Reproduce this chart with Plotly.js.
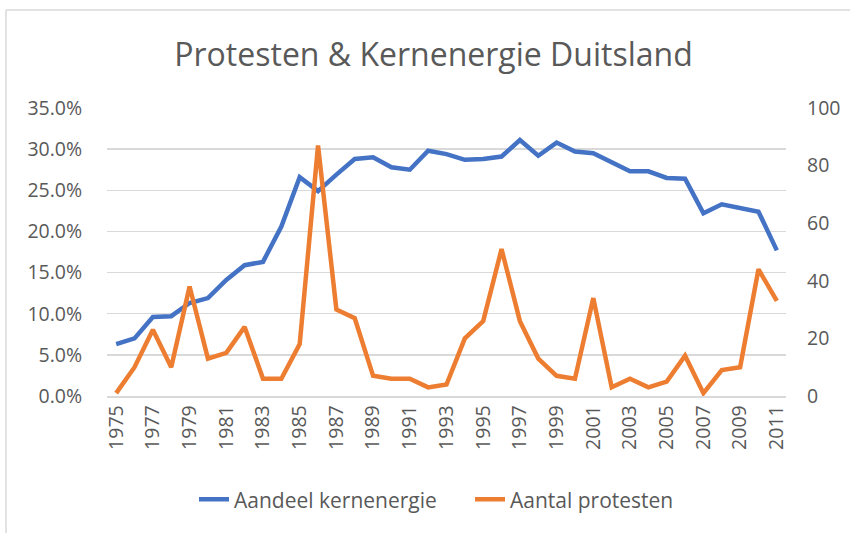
<!DOCTYPE html>
<html>
<head>
<meta charset="utf-8">
<script src="https://cdn.plot.ly/plotly-3.0.1.min.js"></script>
<style>html,body{margin:0;padding:0;background:#fff;}#chart{width:850px;height:533px;}</style>
</head>
<body>
<div id="chart"></div>
<script>
const years = [1975,1976,1977,1978,1979,1980,1981,1982,1983,1984,1985,1986,1987,1988,1989,1990,1991,1992,1993,1994,1995,1996,1997,1998,1999,2000,2001,2002,2003,2004,2005,2006,2007,2008,2009,2010,2011];
const aandeelKernenergie = [0.063,0.070,0.096,0.097,0.113,0.119,0.141,0.159,0.163,0.206,0.266,0.249,0.269,0.288,0.290,0.278,0.275,0.298,0.294,0.287,0.288,0.291,0.311,0.292,0.308,0.297,0.295,0.284,0.273,0.273,0.265,0.264,0.222,0.233,0.229,0.224,0.177];
const aantalProtesten = [1,10,23,10,38,13,15,24,6,6,18,87,30,27,7,6,6,3,4,20,26,51,26,13,7,6,34,3,6,3,5,14,1,9,10,44,33];
const xTickVals = [1975,1977,1979,1981,1983,1985,1987,1989,1991,1993,1995,1997,1999,2001,2003,2005,2007,2009,2011];
const leftTicks = [0,0.05,0.10,0.15,0.20,0.25,0.30,0.35];
const rightTicks = [0,20,40,60,80,100];

const font = "'Open Sans', 'Liberation Sans', sans-serif";
const grey = '#595959';
const tickSize = 19.5;

const traces = [
  {x: years, y: aandeelKernenergie, name: 'Aandeel kernenergie', type: 'scatter', mode: 'lines',
   line: {color: '#4472C4', width: 4.5, shape: 'linear'}, yaxis: 'y'},
  {x: years, y: aantalProtesten, name: 'Aantal protesten', type: 'scatter', mode: 'lines',
   line: {color: '#ED7D31', width: 4.5, shape: 'linear'}, yaxis: 'y2'}
];

const layout = {
  width: 850, height: 533,
  margin: {l: 107, r: 64, t: 108, b: 137, pad: 0},
  paper_bgcolor: '#fff', plot_bgcolor: '#fff',
  font: {family: font, color: grey, size: tickSize},
  title: {text: 'Protesten &amp; Kernenergie Duitsland', font: {family: font, size: 32, color: grey},
          x: 0.51, xanchor: 'center', y: 0.897, yanchor: 'middle', xref: 'container', yref: 'container'},
  showlegend: true,
  legend: {orientation: 'h', x: (194 - 107) / 679, xanchor: 'left', y: -0.36, yanchor: 'middle',
           font: {family: font, size: 21, color: grey}, itemwidth: 30, entrywidth: 231, entrywidthmode: 'pixels'},
  xaxis: {type: 'linear', range: [1974.5, 2011.5], tickmode: 'array', tickvals: xTickVals,
          ticktext: xTickVals.map(String), tickangle: -90, showgrid: false, zeroline: false,
          showline: true, linecolor: '#d9d9d9', linewidth: 1.5, ticks: '', ticklen: 0, automargin: false,
          tickfont: {family: font, size: tickSize, color: grey}},
  yaxis: {range: [0, 0.35], tickmode: 'array', tickvals: leftTicks, tickformat: '.1%',
          showgrid: true, gridcolor: '#d9d9d9', gridwidth: 1.5, zeroline: false, showline: false,
          ticks: 'outside', ticklen: 20, tickcolor: 'rgba(0,0,0,0)', automargin: false,
          tickfont: {family: font, size: tickSize, color: grey}},
  yaxis2: {range: [0, 100], overlaying: 'y', side: 'right', tickmode: 'array', tickvals: rightTicks,
           showgrid: false, zeroline: false, showline: false, ticks: '', ticklen: 0,
           ticklabelstandoff: 20, automargin: false,
           tickfont: {family: font, size: tickSize, color: grey}},
  shapes: [
    {type: 'line', xref: 'paper', yref: 'paper', x0: -101/679, x1: 743/679, y0: 1 + 98/288, y1: 1 + 98/288,
     line: {color: '#d9d9d9', width: 1.5}},
    {type: 'line', xref: 'paper', yref: 'paper', x0: -101/679, x1: -101/679, y0: 1 + 98/288, y1: -140/288,
     line: {color: '#d9d9d9', width: 1.5}}
  ]
};

Plotly.newPlot('chart', traces, layout, {displayModeBar: false, staticPlot: true});
</script>
</body>
</html>
